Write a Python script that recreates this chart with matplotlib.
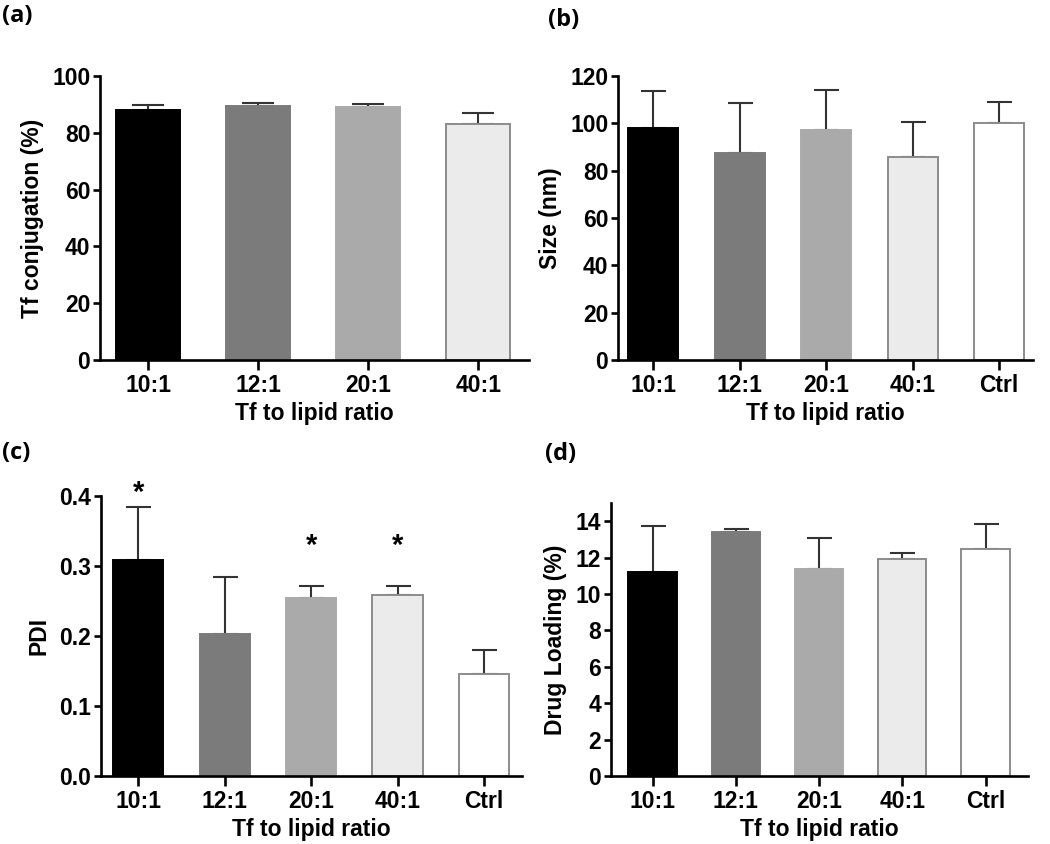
import matplotlib
matplotlib.use("Agg")
import matplotlib.pyplot as plt

plt.rcParams['font.family'] = ['Liberation Sans', 'DejaVu Sans']

# ---- data ----
cats_a = ["10:1", "12:1", "20:1", "40:1"]
conj_mean = [88.2, 89.4, 89.0, 83.0]
conj_err = [1.7, 1.0, 1.0, 3.9]

cats = ["10:1", "12:1", "20:1", "40:1", "Ctrl"]
size_mean = [98.1, 87.6, 97.2, 85.6, 100.0]
size_err = [15.7, 21.0, 17.0, 14.8, 9.0]

pdi_mean = [0.308, 0.203, 0.254, 0.258, 0.146]
pdi_err = [0.077, 0.081, 0.017, 0.013, 0.034]
pdi_sig = ["*", "", "*", "*", ""]

dl_mean = [11.2, 13.4, 11.35, 11.93, 12.49]
dl_err = [2.53, 0.15, 1.7, 0.31, 1.35]

xlabel = "Tf to lipid ratio"

fills = ["#000000", "#7b7b7b", "#aaaaaa", "#ebebeb", "#ffffff"]
edges = ["#000000", "#7b7b7b", "#aaaaaa", "#8c8c8c", "#8c8c8c"]

FS = 16.5
W, H = 1050, 844
fig = plt.figure(figsize=(W / 100, H / 100), dpi=100)


def make_ax(l, r, b, t):
    return fig.add_axes([l / W, 1 - b / H, (r - l) / W, (b - t) / H])


def draw(ax, labels, means, errs, ylim, yticks, ylab, xlim, capsize, ytl=None):
    x = list(range(len(labels)))
    ax.bar(x, means, width=0.58, color=fills[:len(labels)],
           edgecolor=edges[:len(labels)], linewidth=1.4, zorder=2)
    ax.errorbar(x, means, yerr=[[0] * len(errs), errs], fmt="none",
                ecolor="#333333", elinewidth=1.5, capsize=capsize,
                capthick=1.5, zorder=1)
    ax.set_xlim(*xlim)
    ax.set_ylim(*ylim)
    ax.set_yticks(yticks)
    if ytl is not None:
        ax.set_yticklabels(ytl)
    ax.set_xticks(x)
    ax.set_xticklabels(labels)
    for t in ax.get_xticklabels() + ax.get_yticklabels():
        t.set_fontsize(FS)
        t.set_fontweight("bold")
    ax.set_ylabel(ylab, fontsize=FS, fontweight="bold", labelpad=6)
    ax.set_xlabel(xlabel, fontsize=FS, fontweight="bold", labelpad=4)
    for s in ["top", "right"]:
        ax.spines[s].set_visible(False)
    for s in ["left", "bottom"]:
        ax.spines[s].set_linewidth(1.9)
    ax.tick_params(axis="y", direction="out", length=5, width=1.9, pad=2)
    ax.tick_params(axis="x", direction="out", length=7, width=1.9, pad=3)


ax_a = make_ax(100, 529, 360, 76)
draw(ax_a, cats_a, conj_mean, conj_err, (0, 100), [0, 20, 40, 60, 80, 100],
     "Tf conjugation (%)", (-0.436, 3.46), 11.5)

ax_b = make_ax(618, 1033, 360, 76)
draw(ax_b, cats, size_mean, size_err, (0, 120), [0, 20, 40, 60, 80, 100, 120],
     "Size (nm)", (-0.405, 4.39), 9)

ax_c = make_ax(101, 522, 776, 496)
draw(ax_c, cats, pdi_mean, pdi_err, (0, 0.4), [0.0, 0.1, 0.2, 0.3, 0.4],
     "PDI", (-0.43, 4.44), 9, ytl=["0.0", "0.1", "0.2", "0.3", "0.4"])
for i, s in enumerate(pdi_sig):
    if s:
        top = pdi_mean[i] + pdi_err[i]
        ypos = 0.405 if i == 0 else top + 0.058
        ax_c.text(i, ypos, s, ha="center", va="center", fontsize=21,
                  fontweight="bold", clip_on=False)

ax_d = make_ax(611, 1028, 776, 503)
draw(ax_d, cats, dl_mean, dl_err, (0, 15), [0, 2, 4, 6, 8, 10, 12, 14],
     "Drug Loading (%)", (-0.50, 4.51), 9)

panel_font = dict(fontsize=17, fontweight="bold", family=["Open Sans", "DejaVu Sans"])
fig.text(2 / W, 1 - 16 / H, "(a)", va="center", ha="left", **panel_font)
fig.text(548 / W, 1 - 20 / H, "(b)", va="center", ha="left", **panel_font)
fig.text(2 / W, 1 - 453 / H, "(c)", va="center", ha="left", **panel_font)
fig.text(545 / W, 1 - 454 / H, "(d)", va="center", ha="left", **panel_font)

fig.savefig("out.png", dpi=100)
